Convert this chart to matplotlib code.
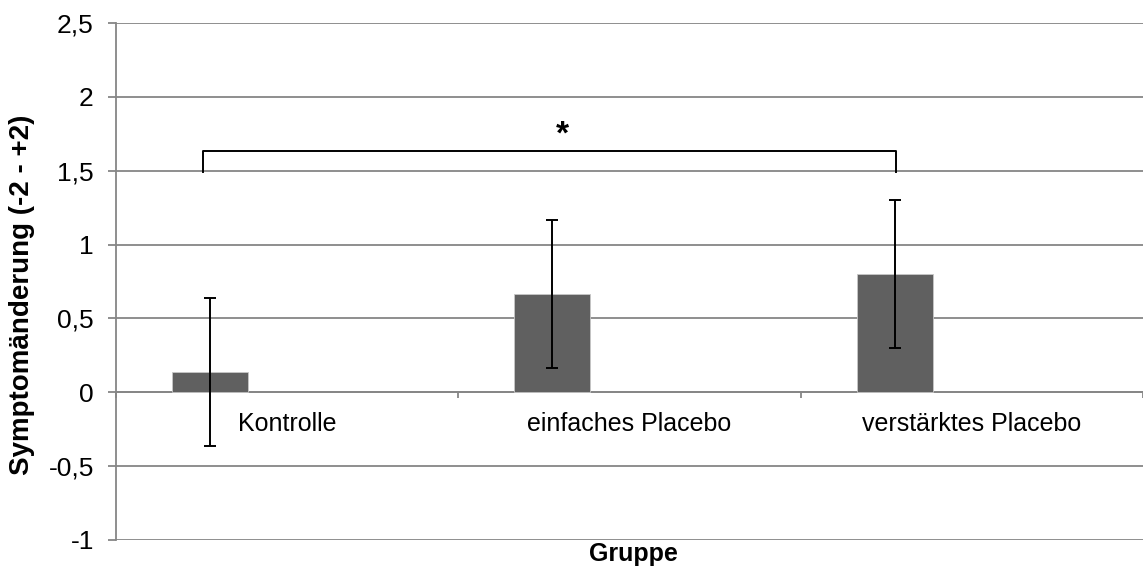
import matplotlib.pyplot as plt
import numpy as np

plt.rcParams['font.family'] = ['Liberation Sans', 'DejaVu Sans']

groups = ['Kontrolle', 'einfaches Placebo', 'verstärktes Placebo']
means = [0.135, 0.666, 0.80]
errors = [0.5, 0.5, 0.5]

yticks = [-1, -0.5, 0, 0.5, 1, 1.5, 2, 2.5]
ytick_labels = ['-1', '-0,5', '0', '0,5', '1', '1,5', '2', '2,5']

# significance bracket Kontrolle vs. verstärktes Placebo
sig_left, sig_right = -0.245, 1.778
sig_top, sig_bottom = 1.63, 1.49
sig_star = (0.805, 1.74)

grid_col = '#868686'
fs = 18

fig = plt.figure(figsize=(11.43, 5.69), dpi=100)
ax = fig.add_axes([0.1015, 0.051, 0.8985, 0.9086])

x = np.arange(len(groups))
bar_w = 0.222
xb = x - 0.225
ax.bar(xb, means, width=bar_w, color='#606060', edgecolor='#c8c8c8',
       linewidth=0.6, zorder=3)
ax.errorbar(xb, means, yerr=errors, fmt='none', ecolor='black',
            elinewidth=1.4, capsize=4.5, capthick=1.4, zorder=4)

ax.set_xlim(-0.5, 2.5)
ax.set_ylim(-1, 2.5)
ax.set_yticks(yticks)
ax.set_yticklabels(ytick_labels, fontsize=19)
ax.yaxis.grid(True, color=grid_col, linewidth=1.3, zorder=0)
ax.set_axisbelow(True)

# category axis runs along y = 0
ax.spines['top'].set_visible(False)
ax.spines['right'].set_visible(False)
ax.spines['bottom'].set_position(('data', 0))
ax.spines['bottom'].set_color(grid_col)
ax.spines['bottom'].set_linewidth(1.3)
ax.spines['left'].set_color(grid_col)
ax.spines['left'].set_linewidth(1.3)
ax.tick_params(axis='y', length=6, color=grid_col, width=1.3, pad=10)

ax.set_xticks([-0.5, 0.5, 1.5, 2.5])
ax.set_xticklabels([])
ax.set_xticks(x, minor=True)
ax.set_xticklabels(groups, minor=True, fontsize=fs)
ax.tick_params(axis='x', which='major', length=4, color=grid_col, width=1.3)
ax.tick_params(axis='x', which='minor', length=0, pad=14)

ax.plot([sig_left, sig_left, sig_right, sig_right],
        [sig_bottom, sig_top, sig_top, sig_bottom],
        color='black', linewidth=1.4, zorder=5)
ax.text(sig_star[0], sig_star[1], '*', ha='center', va='center',
        fontsize=24, fontweight='bold')

fig.text(22 / 1143, 1 - 295 / 569, 'Symptomänderung (-2 - +2)', rotation=90,
         ha='center', va='center', fontsize=20, fontweight='bold')
fig.text(633 / 1143, 1 - 554 / 569, 'Gruppe', ha='center', va='center',
         fontsize=fs, fontweight='bold')

fig.savefig('out.png', dpi=100)
